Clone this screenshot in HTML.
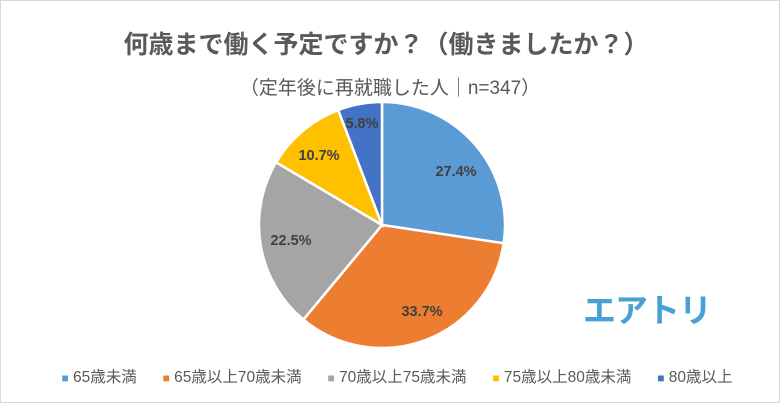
<!DOCTYPE html>
<html><head><meta charset="utf-8"><style>
body{margin:0;background:#fff;}
.w{position:relative;width:778px;height:401px;border:1px solid #d9d9d9;overflow:hidden;font-family:"Liberation Sans","Noto Sans CJK JP",sans-serif;}
.t{position:absolute;left:0;width:778px;text-align:center;color:#595959;white-space:nowrap}
</style></head><body><div class="w">
<div class="t" style="top:24px;font-size:25px;font-weight:bold;left:-4px">何歳まで働く予定ですか？（働きましたか？）</div>
<div class="t" style="top:72px;font-size:19px;">（定年後に再就職した人｜n=347）</div>
<svg id="s" width="778" height="401" style="position:absolute;left:0;top:0"></svg>
<div style="position:absolute;left:582px;top:283px;font-size:33px;font-weight:bold;color:#4a9fd5;letter-spacing:-1px;font-family:'Noto Sans CJK JP',sans-serif">エアトリ</div>
<div style="position:absolute;top:364px;left:7px;width:778px;text-align:center;font-size:15.5px;color:#595959;white-space:nowrap">
<span style="color:#5b9bd5;font-size:12px">■</span> 65歳未満 &nbsp;&nbsp;&nbsp;&nbsp; <span style="color:#ed7d31;font-size:12px">■</span> 65歳以上70歳未満 &nbsp;&nbsp;&nbsp;&nbsp; <span style="color:#a5a5a5;font-size:12px">■</span> 70歳以上75歳未満 &nbsp;&nbsp;&nbsp;&nbsp; <span style="color:#ffc000;font-size:12px">■</span> 75歳以上80歳未満 &nbsp;&nbsp;&nbsp;&nbsp; <span style="color:#4472c4;font-size:12px">■</span> 80歳以上</div>
</div>
<script>
var d=[[27.4,"#5b9bd5"],[33.7,"#ed7d31"],[22.5,"#a5a5a5"],[10.7,"#ffc000"],[5.8,"#4472c4"]];
var cx=381,cy=224,r=123,c=0,h="",tot=100.1;
var lp=[[455,171],[421,311],[290,240],[318,155],[361,123]];
function p(f,rr){var a=f/tot*2*Math.PI;return [cx+rr*Math.sin(a),cy-rr*Math.cos(a)];}
d.forEach(function(v,i){var a=p(c,r),b=p(c+v[0],r),l=v[0]/tot>0.5?1:0;
h+='<path d="M'+cx+','+cy+'L'+a[0]+','+a[1]+'A'+r+','+r+' 0 '+l+' 1 '+b[0]+','+b[1]+'Z" fill="'+v[1]+'" stroke="#fff" stroke-width="2.5"/>';
h+='<text x="'+lp[i][0]+'" y="'+lp[i][1]+'" text-anchor="middle" dominant-baseline="middle" font-family="Liberation Sans" font-weight="bold" font-size="14.5" fill="#404040">'+v[0].toFixed(1)+'%</text>';
c+=v[0];});
document.getElementById("s").innerHTML=h;
</script>
</body></html>
